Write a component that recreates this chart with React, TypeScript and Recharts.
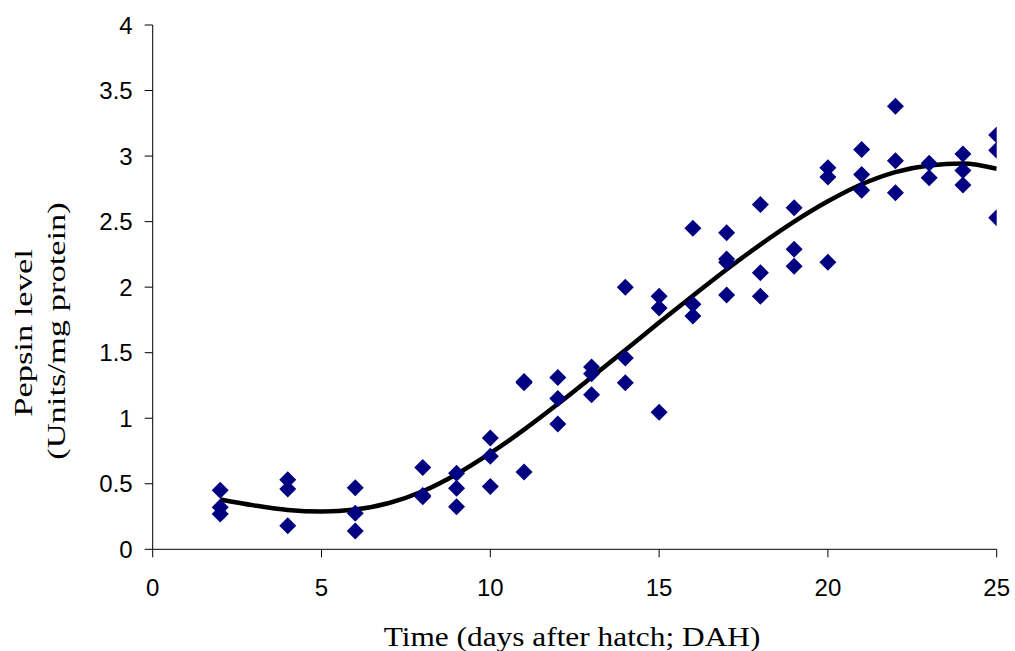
import React from 'react';
import { ComposedChart, Scatter, Line, XAxis, YAxis } from 'recharts';

// Measured samples (days after hatch, pepsin level)
const sampleDays = [
  2, 2, 2, 4, 4, 4, 6, 6, 6, 8, 8, 8, 9, 9, 9, 10, 10, 10, 11, 11, 11,
  12, 12, 12, 13, 13, 13, 14, 14, 14, 15, 15, 15, 16, 16, 16, 17, 17, 17, 17,
  18, 18, 18, 19, 19, 19, 20, 20, 20, 21, 21, 21, 22, 22, 22, 23, 23,
  24, 24, 24, 25, 25, 25,
];
const pepsinLevels = [
  0.45, 0.32, 0.27, 0.53, 0.46, 0.18, 0.47, 0.275, 0.14, 0.625, 0.41, 0.4,
  0.58, 0.465, 0.325, 0.85, 0.71, 0.48, 1.28, 1.27, 0.59,
  1.31, 1.15, 0.955, 1.39, 1.34, 1.18, 2.0, 1.46, 1.27, 1.93, 1.84, 1.045,
  2.45, 1.87, 1.78, 2.415, 2.215, 2.19, 1.94,
  2.63, 2.11, 1.93, 2.605, 2.29, 2.16, 2.91, 2.84, 2.19, 3.05, 2.86, 2.74,
  3.38, 2.965, 2.72, 2.945, 2.835, 3.015, 2.89, 2.78, 3.16, 3.045, 2.53,
];

// Polynomial trend line
const trendDays = [2, 3, 4, 5, 6, 7, 8, 9, 10, 11, 12, 13, 14, 15, 16, 17, 18, 19, 20, 21, 22, 23, 24, 25];
const trendLevels = [
  0.38, 0.335, 0.3, 0.288, 0.303, 0.353, 0.443, 0.573, 0.733, 0.913, 1.108, 1.313,
  1.52, 1.73, 1.935, 2.135, 2.325, 2.5, 2.655, 2.785, 2.878, 2.928, 2.943, 2.903,
];

const xTicks = [0, 5, 10, 15, 20, 25];
const yTicks = [0, 0.5, 1, 1.5, 2, 2.5, 3, 3.5, 4];

const xTitle = 'Time (days after hatch; DAH)';
const yTitleLine1 = 'Pepsin level';
const yTitleLine2 = '(Units/mg protein)';

const points = sampleDays.map((d, i) => ({ x: d, y: pepsinLevels[i] }));
const trend = trendDays.map((d, i) => ({ x: d, y: trendLevels[i] }));

const Diamond = (props: any) => {
  const { cx, cy } = props;
  if (cx == null || cy == null) return null;
  const r = 8.5;
  return (
    <polygon
      points={`${cx},${cy - r} ${cx + r},${cy} ${cx},${cy + r} ${cx - r},${cy}`}
      fill="#000080"
    />
  );
};

const SERIF = '"Liberation Serif", "Times New Roman", serif';
const SANS = '"Liberation Sans", Arial, sans-serif';

const YTitle = () => (
  <g>
    <text
      transform="translate(32,333) rotate(-90) scale(1.38,1)"
      x={0}
      y={0}
      textAnchor="middle"
      fontFamily={SERIF}
      fontSize={25}
      fill="#000"
    >
      {yTitleLine1}
    </text>
    <text
      transform="translate(65,331) rotate(-90) scale(1.38,1)"
      x={0}
      y={0}
      textAnchor="middle"
      fontFamily={SERIF}
      fontSize={25}
      fill="#000"
    >
      {yTitleLine2}
    </text>
  </g>
);

const XTitle = () => (
  <text
    transform="translate(572,646) scale(1.12,1)"
    x={0}
    y={0}
    textAnchor="middle"
    fontFamily={SERIF}
    fontSize={28}
    fill="#000"
  >
    {xTitle}
  </text>
);

export default function App() {
  return (
    <div style={{ position: 'absolute', left: 0, top: 0, width: 1015, height: 651, background: '#fff' }}>
      <ComposedChart
        width={1015}
        height={651}
        margin={{ top: 25, right: 18.3, bottom: 41.7, left: 52.7 }}
      >
        <XAxis
          type="number"
          dataKey="x"
          domain={[0, 25]}
          ticks={xTicks}
          allowDataOverflow
          height={60}
          tickSize={8}
          tickMargin={22}
          axisLine={{ stroke: '#000', strokeWidth: 1 }}
          tickLine={{ stroke: '#000', strokeWidth: 1 }}
          tick={{ fontSize: 24, fill: '#000', fontFamily: SANS }}
          label={{ content: () => <XTitle /> }}
        />
        <YAxis
          type="number"
          dataKey="y"
          domain={[0, 4]}
          ticks={yTicks}
          allowDataOverflow
          width={100}
          tickSize={8}
          tickMargin={12}
          axisLine={{ stroke: '#000', strokeWidth: 1 }}
          tickLine={{ stroke: '#000', strokeWidth: 1 }}
          tick={{ fontSize: 24, fill: '#000', fontFamily: SANS }}
          label={{ content: () => <YTitle /> }}
        />
        <Scatter data={points} dataKey="y" shape={<Diamond />} isAnimationActive={false} />
        <Line
          data={trend}
          dataKey="y"
          type="monotone"
          stroke="#000"
          strokeWidth={4.5}
          dot={false}
          activeDot={false}
          isAnimationActive={false}
        />
      </ComposedChart>
    </div>
  );
}
